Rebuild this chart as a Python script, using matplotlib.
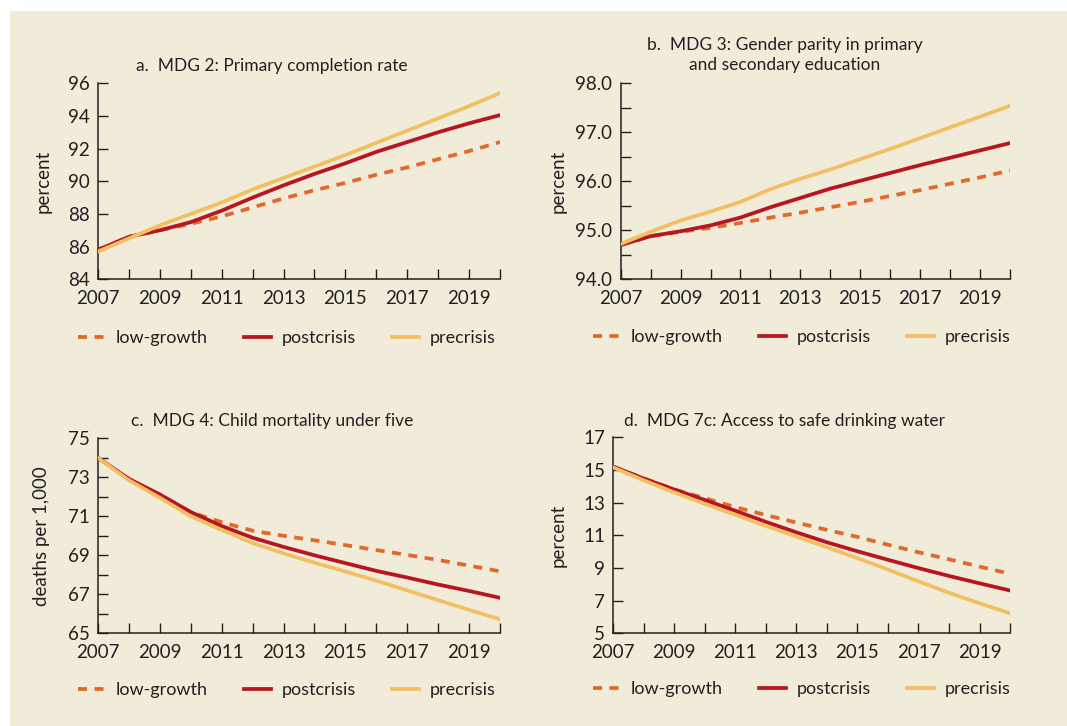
import matplotlib
matplotlib.use("Agg")
import matplotlib.pyplot as plt
from matplotlib.patches import Rectangle
from matplotlib.ticker import MultipleLocator

years = list(range(2007, 2021))

# a. MDG 2: primary completion rate (percent)
a_low = [85.8, 86.6, 87.0, 87.4, 87.85, 88.4, 88.95, 89.45, 89.9, 90.4, 90.85, 91.35, 91.85, 92.4]
a_post = [85.8, 86.6, 87.0, 87.5, 88.2, 89.0, 89.75, 90.45, 91.1, 91.8, 92.4, 93.0, 93.55, 94.05]
a_pre = [85.7, 86.5, 87.3, 88.0, 88.7, 89.5, 90.2, 90.9, 91.6, 92.35, 93.1, 93.85, 94.6, 95.4]

# b. MDG 3: gender parity (percent)
b_low = [94.7, 94.88, 94.97, 95.05, 95.15, 95.26, 95.36, 95.47, 95.58, 95.7, 95.82, 95.95, 96.08, 96.22]
b_post = [94.7, 94.88, 94.98, 95.1, 95.26, 95.47, 95.66, 95.85, 96.01, 96.17, 96.33, 96.48, 96.63, 96.78]
b_pre = [94.72, 94.97, 95.2, 95.38, 95.58, 95.84, 96.05, 96.24, 96.45, 96.66, 96.88, 97.1, 97.32, 97.54]

# c. MDG 4: child mortality under five (deaths per 1,000)
c_low = [74.0, 72.9, 72.1, 71.2, 70.7, 70.26, 70.0, 69.77, 69.52, 69.27, 69.02, 68.76, 68.47, 68.18]
c_post = [74.0, 72.92, 72.12, 71.22, 70.5, 69.9, 69.43, 69.0, 68.6, 68.2, 67.86, 67.5, 67.17, 66.82]
c_pre = [74.0, 72.85, 71.95, 71.0, 70.3, 69.63, 69.1, 68.62, 68.17, 67.7, 67.2, 66.7, 66.2, 65.72]

# d. MDG 7c: access to safe drinking water (percent)
d_low = [15.2, 14.48, 13.8, 13.27, 12.72, 12.24, 11.78, 11.33, 10.9, 10.42, 9.96, 9.53, 9.08, 8.65]
d_post = [15.2, 14.47, 13.8, 13.16, 12.5, 11.82, 11.18, 10.57, 10.02, 9.5, 8.99, 8.51, 8.06, 7.62]
d_pre = [15.15, 14.36, 13.62, 12.92, 12.25, 11.57, 10.92, 10.27, 9.6, 8.9, 8.18, 7.48, 6.84, 6.22]

series_labels = ["low-growth", "postcrisis", "precrisis"]
colors = ["#e2692a", "#b8161f", "#f2c062"]
bg = "#f1ecda"
ink = "#231f20"

plt.rcParams["font.family"] = ["Lato", "DejaVu Sans"]
plt.rcParams["text.color"] = ink

fig = plt.figure(figsize=(10.67, 7.26), dpi=100)
fig.patch.set_facecolor("white")
fig.patches.append(Rectangle((10 / 1067, 0), 1, 1 - 11 / 726, transform=fig.transFigure,
                             facecolor=bg, edgecolor="none", zorder=-10))

panels = [
    dict(rect=[0.0918, 0.6153, 0.3768, 0.27], data=(a_low, a_post, a_pre),
         ylim=(84, 96), ymajor=2, yminor=None, fmt="{:.0f}", ylabel="percent", ylx=-0.114,
         title="a.  MDG 2: Primary completion rate", tx=272, ty=66, leg=(287, 338)),
    dict(rect=[0.5817, 0.6153, 0.3649, 0.27], data=(b_low, b_post, b_pre),
         ylim=(94, 98), ymajor=1, yminor=0.5, fmt="{:.1f}", ylabel="percent", ylx=-0.138,
         title="b.  MDG 3: Gender parity in primary\nand secondary education", tx=785, ty=55,
         leg=(802, 337)),
    dict(rect=[0.0918, 0.1277, 0.3768, 0.2686], data=(c_low, c_post, c_pre),
         ylim=(65, 75), ymajor=2, yminor=1, fmt="{:.0f}", ylabel="deaths per 1,000", ylx=-0.119,
         title="c.  MDG 4: Child mortality under five", tx=272, ty=421, leg=(287, 690)),
    dict(rect=[0.5748, 0.1277, 0.3718, 0.27], data=(d_low, d_post, d_pre),
         ylim=(5, 17), ymajor=2, yminor=None, fmt="{:.0f}", ylabel="percent", ylx=-0.117,
         title="d.  MDG 7c: Access to safe drinking water", tx=785, ty=421, leg=(802, 689)),
]

for p in panels:
    ax = fig.add_axes(p["rect"])
    ax.set_facecolor("none")
    low, post, pre = p["data"]
    ax.plot(years, low, color=colors[0], lw=2.7, linestyle=(0, (2.4, 2.0)), label=series_labels[0], zorder=2)
    ax.plot(years, post, color=colors[1], lw=2.7, label=series_labels[1], zorder=3)
    ax.plot(years, pre, color=colors[2], lw=2.7, label=series_labels[2], zorder=4)

    ax.set_xlim(2007, 2020)
    ax.set_ylim(*p["ylim"])
    ax.set_xticks(range(2007, 2021, 2))
    ax.xaxis.set_minor_locator(MultipleLocator(1))
    lo, hi = p["ylim"]
    yt = [lo + i * p["ymajor"] for i in range(int(round((hi - lo) / p["ymajor"])) + 1)]
    ax.set_yticks(yt)
    ax.set_yticklabels([p["fmt"].format(v) for v in yt])
    if p["yminor"]:
        ax.yaxis.set_minor_locator(MultipleLocator(p["yminor"]))

    for s in ["top", "right"]:
        ax.spines[s].set_visible(False)
    for s in ["left", "bottom"]:
        ax.spines[s].set_color(ink)
        ax.spines[s].set_linewidth(1.1)
    ax.tick_params(which="both", direction="in", length=7.5, width=1.0, color=ink,
                   labelsize=13.5, labelcolor=ink, pad=6)
    ax.tick_params(axis="x", which="major", pad=8)

    ax.set_ylabel(p["ylabel"], fontsize=13.5, color=ink)
    ax.yaxis.set_label_coords(p["ylx"], 0.5)

    fig.text(p["tx"] / 1067, 1 - p["ty"] / 726, p["title"], ha="center", va="center",
             fontsize=12.5, color=ink, linespacing=1.3)

    ax.legend(loc="center", bbox_to_anchor=(p["leg"][0] / 1067, 1 - p["leg"][1] / 726),
              bbox_transform=fig.transFigure, ncol=3, frameon=False, fontsize=13,
              handlelength=1.5, handletextpad=0.6, columnspacing=2.0)

fig.savefig("out.png", dpi=100, facecolor=fig.get_facecolor())
